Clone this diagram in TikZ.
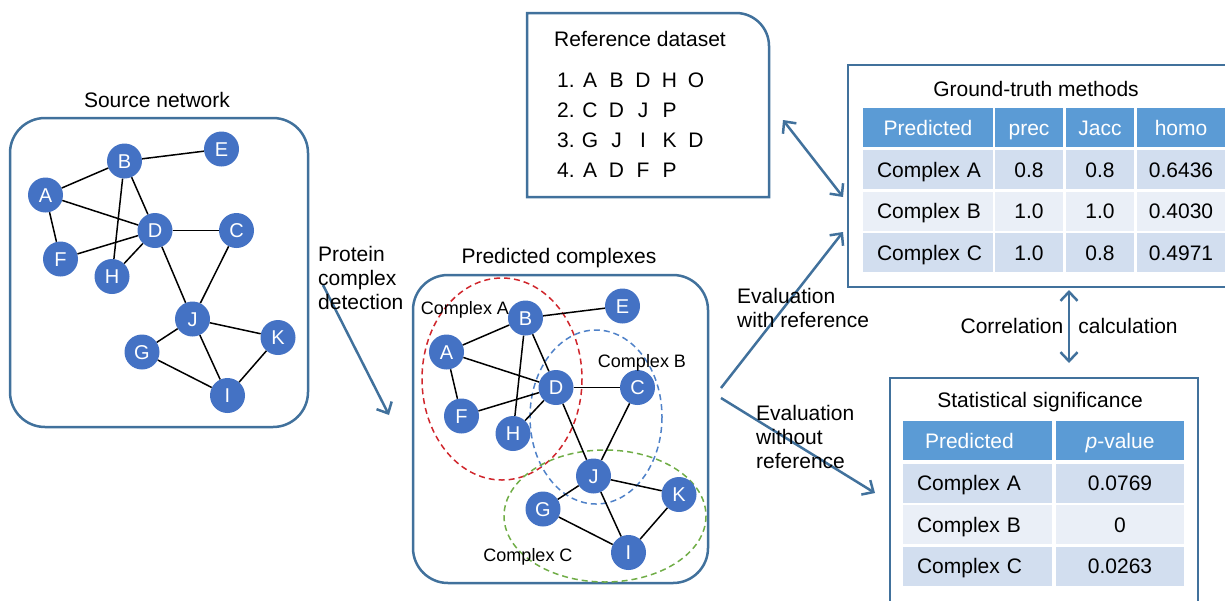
\documentclass[tikz,border=0pt]{standalone}
\usepackage{fontspec}
\setmainfont{Liberation Sans}
\usetikzlibrary{arrows.meta}
\definecolor{nodeblue}{HTML}{4472C4}
\definecolor{boxblue}{HTML}{41719C}
\definecolor{hdrblue}{HTML}{5B9BD5}
\definecolor{bandA}{HTML}{D2DEEF}
\definecolor{bandB}{HTML}{EAEFF7}
\definecolor{cxred}{HTML}{D0262C}
\definecolor{cxblue}{HTML}{4F81C8}
\definecolor{cxgreen}{HTML}{70AD47}
\tikzset{
  vtx/.style={circle, fill=nodeblue, text=white, minimum size=35pt, inner sep=0pt,
    font=\fontsize{20}{24}\selectfont, text height=14pt, text depth=0pt},
  edge/.style={line width=1.5pt, black},
  frame/.style={draw=boxblue, line width=2.5pt},
  flow/.style={draw=boxblue, line width=2.5pt, -{Straight Barb[length=9pt,width=17pt]}},
  twoway/.style={draw=boxblue, line width=2.5pt, {Straight Barb[length=9pt,width=17pt]}-{Straight Barb[length=9pt,width=17pt]}},
  lbl/.style={inner sep=0pt, text height=15pt, text depth=0pt, font=\fontsize{21}{24}\selectfont},
  multi/.style={inner sep=0pt, align=left, anchor=north west, font=\fontsize{21}{24}\selectfont},
  cxlbl/.style={inner sep=0pt, text height=13pt, text depth=0pt, font=\fontsize{18}{21}\selectfont},
  cell/.style={inner sep=0pt, text height=15pt, text depth=0pt, minimum height=39pt, font=\fontsize{21}{24}\selectfont},
  hdr/.style={cell, fill=hdrblue, text=white},
  bA/.style={cell, fill=bandA},
  bB/.style={cell, fill=bandB},
  cxline/.style={line width=1.5pt, dash pattern=on 6pt off 4pt},
}
\newcommand\netbody{%
  \node[vtx] (A) at (45.5,195) {A};
  \node[vtx] (B) at (124.5,161) {B};
  \node[vtx] (E) at (221.5,149) {E};
  \node[vtx] (D) at (155,230.5) {D};
  \node[vtx] (C) at (236.5,230.5) {C};
  \node[vtx] (F) at (60.5,259) {F};
  \node[vtx] (H) at (112,276.5) {H};
  \node[vtx] (J) at (192.5,319) {J};
  \node[vtx] (K) at (278,337.5) {K};
  \node[vtx] (G) at (142,352) {G};
  \node[vtx] (I) at (227.5,395.5) {I};
  \draw[edge] (A) -- (B);
  \draw[edge] (B) -- (E);
  \draw[edge] (B) -- (D);
  \draw[edge] (B) -- (H);
  \draw[edge] (A) -- (D);
  \draw[edge] (A) -- (F);
  \draw[edge] (F) -- (D);
  \draw[edge] (H) -- (D);
  \draw[edge] (D) -- (C);
  \draw[edge] (D) -- (J);
  \draw[edge] (C) -- (J);
  \draw[edge] (J) -- (G);
  \draw[edge] (J) -- (K);
  \draw[edge] (J) -- (I);
  \draw[edge] (G) -- (I);
  \draw[edge] (K) -- (I);
}
\begin{document}
\begin{tikzpicture}[x=1pt,y=-1pt]
\useasboundingbox (0,0) rectangle (1225,600);
\clip (0,0) rectangle (1225,600);

% Source network
\node[lbl] (srctitle) at (157,100) {Source network};
\draw[frame, rounded corners=35pt] (10,118) rectangle (308,427);
\begin{scope}[name prefix=s-]
  \netbody
\end{scope}

% Predicted complexes
\node[lbl] (predtitle) at (559,256) {Predicted complexes};
\draw[frame, rounded corners=35pt] (413,275) rectangle (708,583);
\draw[cxline, draw=cxred] (502,379) ellipse [x radius=80, y radius=101];
\draw[cxline, draw=cxblue] (596,417) ellipse [x radius=66, y radius=87];
\draw[cxline, draw=cxgreen] (605,516) ellipse [x radius=101, y radius=66];
\begin{scope}[shift={(401,157)}, name prefix=p-]
  \netbody
\end{scope}
\node[cxlbl] (cxA) at (465,308) {Complex A};
\node[cxlbl] (cxB) at (642,361) {Complex B};
\node[cxlbl] (cxC) at (528,555) {Complex C};

% Reference dataset
\draw[frame] (527,197) -- (527,13) -- (736,13) arc[start angle=-90, end angle=0, radius=33] -- (769,197) -- cycle;
\node[lbl] (reftitle) at (640,39) {Reference dataset};
\foreach \row/\y/\items in {1/80/{A,B,D,H,O}, 2/110/{C,D,J,P}, 3/140/{G,J,I,K,D}, 4/170/{A,D,F,P}} {
  \node[lbl, anchor=west] (r\row) at (557,\y) {\row.};
  \foreach \it [count=\c] in \items {
    \node[lbl] (r\row-\c) at ({590+26.5*(\c-1)},\y) {\it};
  }
}

% Ground-truth methods
\draw[frame] (848,65) rectangle (1240,287);
\node[lbl] (gttitle) at (1036,89) {Ground-truth methods};
\node[hdr, minimum width=130pt] (g01) at (928,127.5) {Predicted};
\node[hdr, minimum width=68pt] (g02) at (1029,127.5) {prec};
\node[hdr, minimum width=68pt] (g03) at (1100,127.5) {Jacc};
\node[hdr, minimum width=88pt] (g04) at (1181,127.5) {homo};
\node[bA, minimum width=130pt, text width=102pt, align=left] (g11) at (928,169.5) {\mbox{Complex A}};
\node[bA, minimum width=68pt] (g12) at (1029,169.5) {0.8};
\node[bA, minimum width=68pt] (g13) at (1100,169.5) {0.8};
\node[bA, minimum width=88pt] (g14) at (1181,169.5) {0.6436};
\node[bB, minimum width=130pt, text width=102pt, align=left] (g21) at (928,211) {\mbox{Complex B}};
\node[bB, minimum width=68pt] (g22) at (1029,211) {1.0};
\node[bB, minimum width=68pt] (g23) at (1100,211) {1.0};
\node[bB, minimum width=88pt] (g24) at (1181,211) {0.4030};
\node[bA, minimum width=130pt, text width=102pt, align=left] (g31) at (928,252.5) {\mbox{Complex C}};
\node[bA, minimum width=68pt] (g32) at (1029,252.5) {1.0};
\node[bA, minimum width=68pt] (g33) at (1100,252.5) {0.8};
\node[bA, minimum width=88pt] (g34) at (1181,252.5) {0.4971};

% Statistical significance
\draw[frame] (890,378) rectangle (1198,620);
\node[lbl] (sttitle) at (1040,400) {Statistical significance};
\node[hdr, minimum width=149pt, text width=105pt, align=left] (t01) at (977.5,440.5) {\mbox{Predicted}};
\node[hdr, minimum width=128pt] (t02) at (1120,440.5) {\textit{p}-value};
\node[bA, minimum width=149pt, text width=121pt, align=left] (t11) at (977.5,483) {\mbox{Complex A}};
\node[bA, minimum width=128pt] (t12) at (1120,483) {0.0769};
\node[bB, minimum width=149pt, text width=121pt, align=left] (t21) at (977.5,524.5) {\mbox{Complex B}};
\node[bB, minimum width=128pt] (t22) at (1120,524.5) {0};
\node[bA, minimum width=149pt, text width=121pt, align=left] (t31) at (977.5,566) {\mbox{Complex C}};
\node[bA, minimum width=128pt] (t32) at (1120,566) {0.0263};

% Arrows and labels
\coordinate (pcd0) at (323,285);
\coordinate (pcd1) at (389,415);
\draw[flow] (pcd0) -- (pcd1);
\node[multi] (pcdlbl) at (318,246) {Protein\\complex\\detection};

\coordinate (ew0) at (721,388);
\coordinate (ew1) at (843,232);
\draw[flow] (ew0) -- (ew1);
\node[multi] (ewlbl) at (737,288) {Evaluation\\with reference};

\coordinate (en0) at (721,398);
\coordinate (en1) at (875,493);
\draw[flow] (en0) -- (en1);
\node[multi] (enlbl) at (756,405) {Evaluation\\without\\reference};

\coordinate (rg0) at (783,120);
\coordinate (rg1) at (843,197);
\draw[twoway] (rg0) -- (rg1);

\coordinate (cc0) at (1069,290);
\coordinate (cc1) at (1069,363);
\draw[twoway] (cc0) -- (cc1);
\node[lbl] (corr) at (1012,326) {Correlation};
\node[lbl] (calc) at (1128,326) {calculation};
\end{tikzpicture}
\end{document}
